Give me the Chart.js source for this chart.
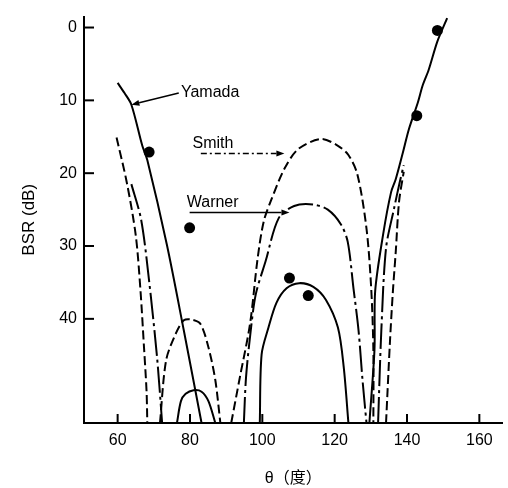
<!DOCTYPE html>
<html>
<head>
<meta charset="utf-8">
<script src="https://cdn.jsdelivr.net/npm/chart.js@4.4.1/dist/chart.umd.min.js"></script>
<style>
html, body { margin: 0; padding: 0; background: #fff; }
#wrap { width: 508px; height: 488px; }
</style>
</head>
<body>
<div id="wrap"><canvas id="bsrChart" width="508" height="488"></canvas></div>
<script>
// theta (deg) on x, BSR (dB) on y
var xTicks = [60, 80, 100, 120, 140, 160];
var yTicks = [0, 10, 20, 30, 40];

// Yamada (solid)
var yamadaLeft  = [[60,7.6],[61.9,9.0],[63.8,10.6],[66.8,16.2],[68.2,18.2],[73.6,29.8],[78.3,41.6],[83.2,54.3]];
var yamadaLobe  = [[99.3,54.3],[99.8,44.9],[101.7,41.2],[103.9,37.8],[106.7,35.8],[110.2,35.1],[114.1,35.6],[117.6,37.4],[120.9,41.2],[122.5,46.6],[123.8,54.3]];
var yamadaRight = [[129.6,54.3],[131.0,44.3],[131.2,36.2],[133.4,28.4],[135.6,22.6],[136.9,20.8],[138.9,17.1],[140.5,14.0],[143.0,10.3],[144.3,8.0],[146.0,5.8],[148.4,1.9],[151.1,-1.3]];
var yamadaDots  = [[68.7,17.1],[79.9,27.5],[107.5,34.4],[112.7,36.8],[142.7,12.1],[148.4,0.4]];

// Smith (dashed)
var smithLeft  = [[59.7,15.1],[62.5,21.2],[65.0,28.5],[66.3,36.0],[67.3,44.0],[68.0,50.0],[68.2,54.3]];
var smithSmall = [[71.7,54.3],[73.4,45.7],[76.1,42.0],[78.3,40.2],[80.5,40.1],[82.9,40.7],[85.1,43.9],[87.0,48.4],[88.4,54.3]];
var smithMain  = [[91.4,54.3],[93.8,48.0],[96.6,40.7],[98.7,31.7],[100.4,26.6],[102.6,23.5],[106.1,19.4],[109.9,16.7],[116.2,15.3],[120.8,16.2],[123.8,17.5],[126.3,20.2],[128.8,27.6],[130.1,35.8],[130.7,44.3],[130.7,54.3]];
var smithRight = [[134.2,54.3],[135.3,43.0],[136.1,36.2],[136.9,30.7],[137.8,23.9],[139.1,19.8]];

// Warner (dash-dot)
var warnerLeft  = [[63.8,21.5],[66.5,26.4],[68.7,34.8],[70.9,45.3],[72.3,54.3]];
var warnerSmall = [[76.4,54.3],[77.5,51.3],[78.8,50.3],[81.0,49.8],[83.2,50.0],[85.1,51.3],[87.0,54.3]];
var warnerMain  = [[94.9,54.3],[95.5,48.0],[96.8,41.6],[98.2,36.6],[100.9,32.1],[104.5,26.2],[108.8,24.5],[114.0,24.3],[118.1,25.0],[121.7,27.0],[123.6,29.4],[125.2,35.8],[126.6,41.6],[127.7,48.4],[128.8,54.3]];
var warnerRight = [[132.0,54.3],[132.9,41.6],[134.2,30.3],[136.4,24.9],[138.0,21.2],[139.1,18.9]];

function pts(arr) {
    return arr.map(function (p) { return { x: p[0], y: p[1] }; });
}

function curve(arr, dash) {
    return {
        data: pts(arr),
        showLine: true,
        borderColor: '#000',
        borderWidth: 2,
        borderDash: dash,
        pointRadius: 0,
        tension: 0.3,
        fill: false
    };
}

var SOLID = [];
var DASH = [9, 4];
var DASHDOT = [26, 4, 3, 4];

var datasets = [
    curve(yamadaLeft, SOLID), curve(yamadaLobe, SOLID), curve(yamadaRight, SOLID),
    curve(smithLeft, DASH), curve(smithSmall, DASH), curve(smithMain, DASH), curve(smithRight, DASH),
    curve(warnerLeft, DASHDOT), curve(warnerSmall, SOLID), curve(warnerMain, DASHDOT), curve(warnerRight, DASHDOT),
    {
        data: pts(yamadaDots),
        showLine: false,
        pointRadius: 5.5,
        pointBackgroundColor: '#000',
        pointBorderColor: '#000',
        pointBorderWidth: 0
    }
];

// labels with arrows, anchored in data units
var notes = [
    { text: 'Yamada', at: [77.5, 9.0], from: [76.9, 9.0], to: [63.8, 10.6], dash: [] },
    { text: 'Smith', at: [80.7, 15.9], from: [83.0, 17.3], to: [106.1, 17.3], dash: [6, 3, 2, 3] },
    { text: 'Warner', at: [79.1, 24.0], from: [79.9, 25.4], to: [107.5, 25.4], dash: [] }
];

var inwardTicks = {
    id: 'inwardTicks',
    afterDatasetsDraw: function (chart) {
        var ctx = chart.ctx;
        var xs = chart.scales.x, ys = chart.scales.y, area = chart.chartArea;
        ctx.save();
        ctx.strokeStyle = '#000';
        ctx.lineWidth = 2;
        xTicks.forEach(function (t) {
            var px = xs.getPixelForValue(t);
            ctx.beginPath();
            ctx.moveTo(px, area.bottom);
            ctx.lineTo(px, area.bottom - 9);
            ctx.stroke();
        });
        yTicks.forEach(function (t) {
            var py = ys.getPixelForValue(t);
            ctx.beginPath();
            ctx.moveTo(area.left, py);
            ctx.lineTo(area.left + 10, py);
            ctx.stroke();
        });

        // notes
        ctx.fillStyle = '#000';
        ctx.font = '16px "Liberation Sans", Arial, sans-serif';
        ctx.textBaseline = 'middle';
        ctx.textAlign = 'left';
        notes.forEach(function (n) {
            ctx.fillText(n.text, xs.getPixelForValue(n.at[0]), ys.getPixelForValue(n.at[1]));
            var x1 = xs.getPixelForValue(n.from[0]), y1 = ys.getPixelForValue(n.from[1]);
            var x2 = xs.getPixelForValue(n.to[0]), y2 = ys.getPixelForValue(n.to[1]);
            var ang = Math.atan2(y2 - y1, x2 - x1);
            var hx = x2 - 8 * Math.cos(ang), hy = y2 - 8 * Math.sin(ang);
            ctx.lineWidth = 1.5;
            ctx.setLineDash(n.dash);
            ctx.beginPath();
            ctx.moveTo(x1, y1);
            ctx.lineTo(hx, hy);
            ctx.stroke();
            ctx.setLineDash([]);
            ctx.beginPath();
            ctx.moveTo(x2, y2);
            ctx.lineTo(hx + 3 * Math.sin(ang), hy - 3 * Math.cos(ang));
            ctx.lineTo(hx - 3 * Math.sin(ang), hy + 3 * Math.cos(ang));
            ctx.closePath();
            ctx.fill();
        });
        ctx.restore();
    }
};

var tickFont = { family: '"Liberation Sans", Arial, sans-serif', size: 16 };

new Chart(document.getElementById('bsrChart').getContext('2d'), {
    type: 'scatter',
    data: { datasets: datasets },
    options: {
        responsive: false,
        animation: false,
        devicePixelRatio: 1,
        layout: { padding: { top: 13, right: 0, bottom: 0, left: 0 } },
        plugins: {
            legend: { display: false },
            tooltip: { enabled: false }
        },
        scales: {
            x: {
                type: 'linear',
                min: 50.7,
                max: 166.4,
                afterBuildTicks: function (scale) {
                    scale.ticks = xTicks.map(function (v) { return { value: v }; });
                },
                afterFit: function (scale) { scale.height = 65; },
                grid: { drawOnChartArea: false, drawTicks: false },
                border: { color: '#000', width: 2 },
                ticks: { color: '#000', font: tickFont, padding: 8, maxRotation: 0 },
                title: {
                    display: true,
                    text: 'θ（度）',
                    color: '#000',
                    font: { family: '"Liberation Sans", "Noto Sans CJK SC", sans-serif', size: 16 },
                    padding: { top: 0, bottom: 0 }
                }
            },
            y: {
                type: 'linear',
                reverse: true,
                min: -1.5,
                max: 54.3,
                afterBuildTicks: function (scale) {
                    scale.ticks = yTicks.map(function (v) { return { value: v }; });
                },
                afterFit: function (scale) { scale.width = 84; },
                grid: { drawOnChartArea: false, drawTicks: false },
                border: { color: '#000', width: 2 },
                ticks: { color: '#000', font: tickFont, padding: 7 },
                title: {
                    display: true,
                    text: 'BSR (dB)',
                    color: '#000',
                    font: { family: '"Liberation Sans", Arial, sans-serif', size: 17 },
                    padding: { top: 19, bottom: 0 }
                }
            }
        }
    },
    plugins: [inwardTicks]
});
</script>
</body>
</html>
